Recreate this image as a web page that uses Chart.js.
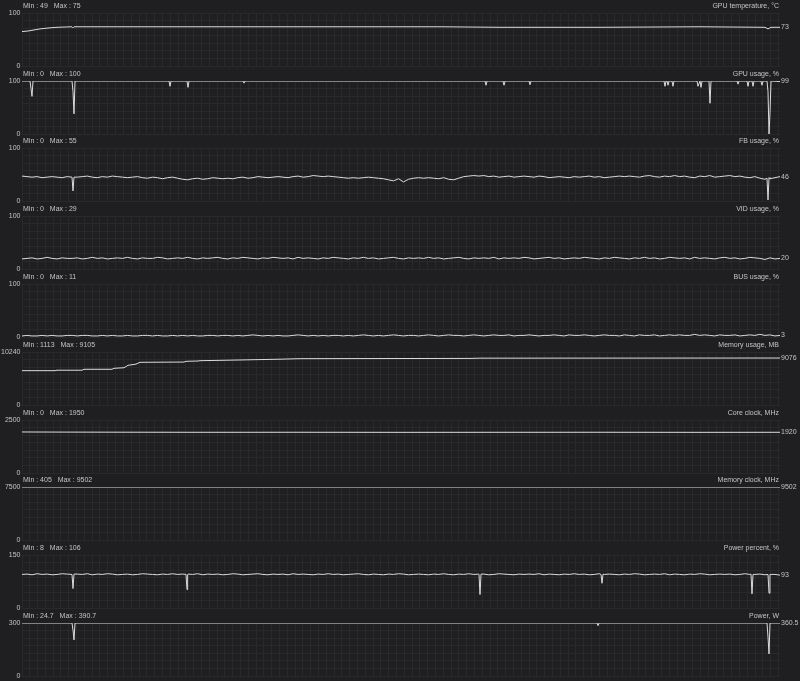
<!DOCTYPE html>
<html>
<head>
<meta charset="utf-8">
<script src="https://cdn.jsdelivr.net/npm/chart.js@4.4.1/dist/chart.umd.min.js"></script>
<style>
  html,body{margin:0;padding:0;background:#1f1f21;}
  #wrap{position:relative;width:800px;height:681px;overflow:hidden;background:#1f1f21;}
  #wrap canvas{position:absolute;left:0;}
</style>
</head>
<body>
<div id="wrap"></div>
<script>
// panel labels
const titles = ['GPU temperature, °C','GPU usage, %','FB usage, %','VID usage, %','BUS usage, %','Memory usage, MB','Core clock, MHz','Memory clock, MHz','Power percent, %','Power, W'];
const axisMax = [100,100,100,100,100,10240,2500,7500,150,300];
const minVals = [49,0,0,0,0,1113,0,405,8,24.7];
const maxVals = [75,100,55,29,11,9105,1950,9502,106,390.7];

// sparse series: [column, value] (columns 22..780)
const gpuTemp = [[22,65],[28,66],[34,68],[40,70],[50,72],[57,73],[72,74],[73,72],[74,74],[200,74],[440,74],[500,73],[600,73],[700,74],[765,73],[768,70],[771,73],[780,73]];
const gpuUsage = [[22,100],[30,100],[31,86],[32,71],[33,100],[72,100],[73,80],[74,38],[75,100],[169,100],[170,90],[171,100],[187,100],[188,88],[189,100],[243,100],[244,96],[245,100],[485,100],[486,92],[487,100],[503,100],[504,92],[505,100],[529,100],[530,93],[531,100],[664,100],[665,90],[666,100],[667,100],[668,92],[669,100],[672,100],[673,90],[674,100],[697,100],[698,90],[700,100],[701,88],[702,100],[709,100],[710,58],[711,100],[737,100],[738,94],[739,100],[747,100],[748,90],[749,100],[752,100],[753,90],[754,100],[761,100],[762,92],[763,100],[767,100],[768,80],[769,0],[770,40],[771,100],[780,99]];
const memUsage = [[22,6630],[55,6630],[57,6720],[82,6720],[84,6900],[112,6900],[114,7090],[124,7200],[128,7670],[136,7900],[140,8250],[184,8300],[186,8440],[198,8500],[200,8560],[240,8700],[280,8850],[300,8950],[470,9000],[480,9050],[780,9076]];
const coreClock = [[22,1935],[60,1930],[120,1925],[200,1920],[300,1922],[400,1918],[500,1920],[600,1922],[700,1918],[780,1920]];
const memClock = [[22,9502],[780,9502]];
const powerW = [[22,355],[72,355],[73,260],[74,204],[75,355],[597,355],[598,285],[599,355],[767,355],[768,220],[769,125],[770,355],[780,360.5]];

// dense series: 152 evenly spaced samples across the plot
const fbUsage = [47,46,45,46,44,45,46,45,44,46, 45,
  45,46,47,45,44,46,45,47,46,45, 44,45,46,44,43,45,44,42,44,45, 43,41,40,42,43,41,42,44,43,42,
  43,42,44,45,43,44,46,45,44,45, 46,45,44,46,47,45,46,48,47,46, 47,46,45,44,43,44,43,44,45,44,
  43,42,40,38,42,36,41,43,44,43, 44,43,42,44,41,40,43,46,47,48, 47,48,46,47,45,46,47,45,46,47,
  46,45,47,46,44,45,46,45,44,46, 45,46,47,45,46,44,45,46,47,46, 47,46,45,47,48,46,45,47,46,48,
  46,47,45,44,47,46,48,45,46,47, 48,46,47,45,44,46,43,41,42,44,46];
const vidUsage = [19,20,21,19,20,22,20,19,21,20, 20,
  21,19,20,22,20,21,19,20,21,20, 22,20,19,21,20,20,22,21,19,20, 21,20,22,20,19,21,20,21,22,20,
  19,21,20,22,21,20,19,21,20,22, 21,20,21,19,22,20,21,20,19,21, 20,22,21,20,19,21,20,22,20,21,
  19,20,21,22,20,19,21,20,21,20, 22,20,21,19,20,21,22,20,19,21, 20,21,20,22,19,21,20,21,20,22,
  21,19,20,21,22,20,21,19,20,21, 20,22,21,20,19,21,20,22,21,20, 19,21,20,22,20,21,19,20,22,21,
  20,21,19,22,20,21,20,19,21,22, 20,21,19,20,22,21,20,18,21,19,20];
const busUsage = [2,3,2,2,3,2,3,2,2,3, 3,
  2,3,3,2,2,3,2,3,2,2, 3,2,2,3,3,2,3,2,2,3, 2,3,2,3,2,2,3,3,2,3,
  3,2,3,2,3,4,3,2,3,2, 3,2,2,3,4,3,2,3,2,3, 2,3,3,2,3,2,3,4,3,2,
  3,2,3,4,3,2,3,3,2,3, 4,3,2,3,4,3,3,2,3,4, 3,2,3,4,3,3,4,2,3,3,
  4,3,2,3,3,4,3,2,4,3, 3,4,3,2,3,4,3,3,2,4, 3,2,4,3,3,4,2,3,4,3,
  4,3,3,5,3,4,3,2,4,3, 3,4,2,3,4,3,5,3,4,2,3];
const powerPct = [95,96,94,97,95,96,94,95,97,96, 95,
  96,95,97,94,96,95,97,96,94,95, 96,94,95,97,96,95,94,96,95,97, 95,96,95,95,97,94,96,95,96,94,
  95,97,96,94,95,96,97,95,94,96, 95,96,94,97,95,96,95,94,96,95, 97,95,96,94,95,96,97,95,94,96,
  95,94,96,95,97,96,94,95,96,95, 94,96,95,97,95,94,96,95,97,95, 96,96,94,95,97,96,95,94,96,95,
  96,95,97,94,96,95,94,96,95,97, 95,96,94,95,97,95,96,95,94,96, 95,97,96,94,95,96,95,97,94,96,
  95,94,96,95,97,96,94,95,96,95, 96,94,95,97,95,95,96,94,95,95,93];

// narrow dips in the dense series: [column, value]
const fbDips = [[72,45],[73,19],[74,45],[767,43],[768,2],[769,44]];
const powerPctDips = [[72,95],[73,55],[74,96],[186,95],[187,52],[188,96],[479,95],[480,38],[481,96],[601,95],[602,70],[603,96],[751,96],[752,40],[753,95],[768,95],[769,42],[770,95]];

(function(){
  const LEFT = 22, RIGHT = 780;
  const panelTop = [13,81,148,216,284,352,420,487,555,623];
  const PAD_TOP = 13, PLOT_H = 53, CANVAS_H = 74;
  const FONT = '7px "Liberation Sans", Arial, sans-serif';
  const TXT = '#c4c4c4';
  const GRID = '#29292c';

  const dense = (arr, dips) => arr.map((v,i) => [LEFT + i*(RIGHT-LEFT)/(arr.length-1), v])
    .concat(dips || []).sort((a,b) => a[0]-b[0]);
  const series = [gpuTemp, gpuUsage, dense(fbUsage, fbDips), dense(vidUsage), dense(busUsage),
    memUsage, coreClock, memClock, dense(powerPct, powerPctDips), powerW];

  const xGrid = [];
  for(let x = LEFT; x <= RIGHT + 0.1; x += 7.8) xGrid.push(x);

  const labelsPlugin = {
    id:'afbLabels',
    afterDraw(chart){
      const i = chart.options.plugins.afbLabels.idx;
      const ctx = chart.ctx, a = chart.chartArea, ys = chart.scales.y;
      const pts = series[i], last = pts[pts.length-1][1];
      ctx.save();
      ctx.font = FONT; ctx.fillStyle = TXT; ctx.textBaseline = 'middle';
      ctx.textAlign = 'right';
      ctx.fillText(String(axisMax[i]), 20.5, a.top);
      ctx.fillText('0', 20.5, a.bottom);
      ctx.fillText(titles[i], 779, a.top - 6.5);
      ctx.textAlign = 'left';
      ctx.fillText('Min : ' + minVals[i] + '   Max : ' + maxVals[i], 23, a.top - 6.5);
      const yEnd = ys.getPixelForValue(Math.min(last, axisMax[i]));
      ctx.fillText(String(last), 781, yEnd);
      ctx.restore();
    }
  };

  const wrap = document.getElementById('wrap');
  series.forEach((pts, i) => {
    const cv = document.createElement('canvas');
    cv.width = 800; cv.height = CANVAS_H;
    cv.style.top = (panelTop[i] - PAD_TOP) + 'px';
    wrap.appendChild(cv);
    const max = axisMax[i];
    new Chart(cv.getContext('2d'), {
      type:'line',
      data:{ datasets:[{
        data: pts.map(p => ({x:p[0], y:Math.min(p[1], max)})),
        borderColor:'#dcdcdc', borderWidth:1, pointRadius:0, tension:0, fill:false
      }]},
      options:{
        responsive:false, animation:false, devicePixelRatio:1,
        layout:{ padding:{ left:LEFT, right:800-RIGHT, top:PAD_TOP, bottom:CANVAS_H-PAD_TOP-PLOT_H } },
        plugins:{ legend:{display:false}, tooltip:{enabled:false}, afbLabels:{idx:i} },
        scales:{
          x:{ type:'linear', min:LEFT, max:RIGHT,
              afterBuildTicks: s => { s.ticks = xGrid.map(v => ({value:v})); },
              afterFit: s => { s.height = 0; },
              ticks:{display:false}, border:{display:false},
              grid:{color:GRID, lineWidth:1, drawTicks:false} },
          y:{ min:0, max:max,
              afterBuildTicks: s => { s.ticks = [0,1,2,3,4,5,6,7].map(j => ({value:max*j/7})); },
              afterFit: s => { s.width = 0; },
              ticks:{display:false}, border:{display:false},
              grid:{color:GRID, lineWidth:1, drawTicks:false} }
        }
      },
      plugins:[labelsPlugin]
    });
  });
})();
</script>
</body>
</html>
